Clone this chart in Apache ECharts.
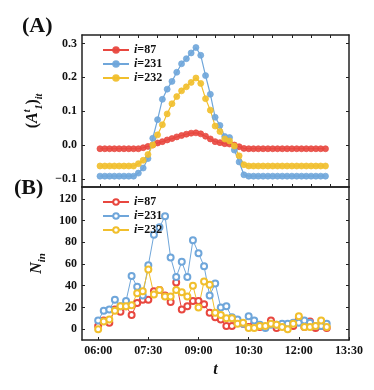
<!DOCTYPE html>
<html>
<head>
<meta charset="utf-8">
<script src="https://cdn.jsdelivr.net/npm/echarts@6/dist/echarts.min.js"></script>
<style>
html, body { margin: 0; padding: 0; background: #fff; }
#chart { width: 374px; height: 390px; }
</style>
</head>
<body>
<div id="chart"></div>
<script>
// panel A: time step index
var stepsA = [0,1,2,3,4,5,6,7,8,9,10,11,12,13,14,15,16,17,18,19,20,21,22,23,
              24,25,26,27,28,29,30,31,32,33,34,35,36,37,38,39,40,41,42,43,44,45,46,47];
var redA = [-0.011,-0.011,-0.011,-0.011,-0.011,-0.011,-0.011,-0.011,-0.011,-0.008,-0.004,0.0,
            0.006,0.010,0.015,0.019,0.024,0.028,0.032,0.035,0.036,0.033,0.026,0.018,
            0.010,0.007,0.004,0.003,0.0,-0.005,-0.010,-0.011,-0.011,-0.011,-0.011,-0.011,
            -0.011,-0.011,-0.011,-0.011,-0.011,-0.011,-0.011,-0.011,-0.011,-0.011,-0.011,-0.011];
var blueA = [-0.092,-0.092,-0.092,-0.092,-0.092,-0.092,-0.092,-0.092,-0.083,-0.068,-0.040,0.020,
             0.075,0.135,0.165,0.188,0.215,0.240,0.255,0.272,0.288,0.265,0.205,0.150,
             0.082,0.058,0.025,0.022,-0.015,-0.050,-0.088,-0.092,-0.092,-0.092,-0.092,-0.092,
             -0.092,-0.092,-0.092,-0.092,-0.092,-0.092,-0.092,-0.092,-0.092,-0.092,-0.092,-0.092];
var yellowA = [-0.062,-0.062,-0.062,-0.062,-0.062,-0.062,-0.062,-0.062,-0.055,-0.045,-0.028,0.0,
               0.030,0.060,0.092,0.122,0.143,0.160,0.172,0.185,0.198,0.182,0.137,0.103,
               0.056,0.040,0.018,0.012,-0.003,-0.032,-0.058,-0.062,-0.062,-0.062,-0.062,-0.062,
               -0.062,-0.062,-0.062,-0.062,-0.062,-0.062,-0.062,-0.062,-0.062,-0.062,-0.062,-0.062];

// panel B: 10-minute slots
var timesB = ['06:00','06:10','06:20','06:30','06:40','06:50','07:00','07:10','07:20','07:30',
              '07:40','07:50','08:00','08:10','08:20','08:30','08:40','08:50','09:00','09:10',
              '09:20','09:30','09:40','09:50','10:00','10:10','10:20','10:30','10:40','10:50',
              '11:00','11:10','11:20','11:30','11:40','11:50','12:00','12:10','12:20','12:30',
              '12:40','12:50'];
var redB = [3,8,6,18,16,21,13,24,27,27,35,36,31,25,43,18,21,26,26,23,15,11,9,3,3,6,5,2,5,2,2,8,1,4,2,3,10,2,7,1,3,1];
var blueB = [8,17,18,27,21,26,49,39,31,59,87,94,104,66,48,62,48,82,70,58,31,42,20,21,11,9,5,12,8,4,1,4,4,5,5,6,6,8,6,3,3,5];
var yellowB = [0,7,9,17,21,21,22,33,35,55,32,36,30,30,36,34,30,40,20,44,41,15,13,10,10,5,6,1,1,3,3,5,4,2,0,5,12,2,2,3,8,2];

var seriesIds = ['87', '231', '232'];
var colors = ['#e8473f', '#6fa6da', '#f1bf2c'];
var tickLabelsA = [-0.1, 0.0, 0.1, 0.2, 0.3];
var tickLabelsB = [0, 20, 40, 60, 80, 100, 120];
var timeLabels = ['06:00', '07:30', '09:00', '10:30', '12:00', '13:30'];

function toMin(s) {
    var p = s.split(':');
    return parseInt(p[0], 10) * 60 + parseInt(p[1], 10);
}
function fmtTime(v) {
    var h = Math.floor(v / 60), m = v % 60;
    return (h < 10 ? '0' : '') + h + ':' + (m < 10 ? '0' : '') + m;
}
function pairs(xs, ys) {
    return ys.map(function (y, i) { return [xs[i], y]; });
}

var FONT = 'Liberation Serif';
var frame = { onZero: false, lineStyle: { color: '#222', width: 1.5 } };
var minB = timesB.map(toMin);
var timeTicks = timeLabels.map(toMin);
var stepTicks = [0, 4, 8, 12, 16, 20, 24, 28, 32, 36, 40, 44, 48];

var richLegend = {
    it: { fontStyle: 'italic', fontWeight: 'bold', fontFamily: FONT, fontSize: 12, color: '#111' },
    n: { fontWeight: 'bold', fontFamily: FONT, fontSize: 12, color: '#111' }
};
function legendFmt(name) {
    return '{it|i}{n|=' + name.split(':')[1] + '}';
}

var seriesA = [redA, blueA, yellowA].map(function (ys, k) {
    return {
        name: 'A:' + seriesIds[k],
        type: 'line',
        xAxisIndex: 0, yAxisIndex: 0,
        data: pairs(stepsA, ys),
        symbol: 'circle',
        symbolSize: 6,
        lineStyle: { color: colors[k], width: 1.2 },
        itemStyle: { color: colors[k], borderColor: colors[k], borderWidth: 0.8, opacity: 0.9 },
        z: 3 + (k === 0 ? 0 : 1)
    };
});
var seriesB = [redB, blueB, yellowB].map(function (ys, k) {
    return {
        name: 'B:' + seriesIds[k],
        type: 'line',
        xAxisIndex: 2, yAxisIndex: 2,
        data: pairs(minB, ys),
        symbol: 'emptyCircle',
        symbolSize: 6,
        lineStyle: { color: colors[k], width: 1 },
        itemStyle: { color: colors[k], borderWidth: 1.3 }
    };
});

var option = {
    animation: false,
    backgroundColor: '#fff',
    textStyle: { fontFamily: FONT },
    grid: [
        { left: 82, top: 35, width: 267, height: 152 },
        { left: 82, top: 187, width: 267, height: 153 }
    ],
    legend: [
        {
            data: seriesA.map(function (s) { return s.name; }),
            orient: 'vertical', left: 97, top: 38,
            itemWidth: 26, itemHeight: 7, itemGap: 0,
            formatter: legendFmt,
            textStyle: { rich: richLegend, lineHeight: 14 }
        },
        {
            data: seriesB.map(function (s) { return s.name; }),
            orient: 'vertical', left: 97, top: 190,
            itemWidth: 26, itemHeight: 7, itemGap: 0,
            formatter: legendFmt,
            textStyle: { rich: richLegend, lineHeight: 14 }
        }
    ],
    xAxis: [
        {
            gridIndex: 0, type: 'value', min: -3.75, max: 51.9, position: 'bottom',
            axisLine: frame, splitLine: { show: false },
            axisTick: { inside: true, length: 3, customValues: stepTicks, lineStyle: { color: '#222' } },
            axisLabel: { show: false }
        },
        {
            gridIndex: 0, type: 'value', min: -3.75, max: 51.9, position: 'top',
            axisLine: frame, splitLine: { show: false },
            axisTick: { inside: true, length: 3, customValues: stepTicks, lineStyle: { color: '#222' } },
            axisLabel: { show: false }
        },
        {
            gridIndex: 1, type: 'value', min: 331, max: 810, position: 'bottom',
            axisLine: frame, splitLine: { show: false },
            axisTick: { inside: true, length: 3, customValues: timeTicks, lineStyle: { color: '#222' } },
            axisLabel: {
                customValues: timeTicks, formatter: fmtTime, margin: 5,
                fontFamily: FONT, fontWeight: 'bold', fontSize: 12, color: '#111'
            },
            name: 't', nameLocation: 'middle', nameGap: 22,
            nameTextStyle: { fontFamily: FONT, fontStyle: 'italic', fontWeight: 'bold', fontSize: 16, color: '#111' }
        },
        {
            gridIndex: 1, type: 'value', min: 331, max: 810, position: 'top',
            axisLine: frame, splitLine: { show: false },
            axisTick: { show: false }, axisLabel: { show: false }
        }
    ],
    yAxis: [
        {
            gridIndex: 0, type: 'value', min: -0.124, max: 0.325, position: 'left',
            axisLine: frame, splitLine: { show: false },
            axisTick: { inside: true, length: 3, customValues: tickLabelsA, lineStyle: { color: '#222' } },
            axisLabel: {
                customValues: tickLabelsA, margin: 5,
                formatter: function (v) { return (v < -1e-9 ? '\u2212' : '') + Math.abs(v).toFixed(1); },
                fontFamily: FONT, fontWeight: 'bold', fontSize: 12, color: '#111'
            },
            name: '{p|(}{a|A}{sup|t}{sub|1}{p|)}{sub|it}',
            nameLocation: 'middle', nameGap: 29, nameRotate: 90,
            nameTextStyle: {
                rich: {
                    p: { fontFamily: FONT, fontWeight: 'bold', fontSize: 16, color: '#111', lineHeight: 22, verticalAlign: 'middle' },
                    a: { fontFamily: FONT, fontWeight: 'bold', fontStyle: 'italic', fontSize: 16, color: '#111', lineHeight: 22, verticalAlign: 'middle' },
                    sup: { fontFamily: FONT, fontWeight: 'bold', fontStyle: 'italic', fontSize: 10, color: '#111', lineHeight: 22, verticalAlign: 'top' },
                    sub: { fontFamily: FONT, fontWeight: 'bold', fontStyle: 'italic', fontSize: 10, color: '#111', lineHeight: 22, verticalAlign: 'bottom' }
                }
            }
        },
        {
            gridIndex: 0, type: 'value', min: -0.124, max: 0.325, position: 'right',
            axisLine: frame, splitLine: { show: false },
            axisTick: { inside: true, length: 3, customValues: tickLabelsA, lineStyle: { color: '#222' } },
            axisLabel: { show: false }
        },
        {
            gridIndex: 1, type: 'value', min: -10, max: 131, position: 'left',
            axisLine: frame, splitLine: { show: false },
            axisTick: { inside: true, length: 3, customValues: tickLabelsB, lineStyle: { color: '#222' } },
            axisLabel: {
                customValues: tickLabelsB, margin: 5,
                fontFamily: FONT, fontWeight: 'bold', fontSize: 12, color: '#111'
            },
            name: '{n|N}{sub|in}',
            nameLocation: 'middle', nameGap: 27, nameRotate: 90,
            nameTextStyle: {
                rich: {
                    n: { fontFamily: FONT, fontWeight: 'bold', fontStyle: 'italic', fontSize: 16, color: '#111', lineHeight: 22, verticalAlign: 'middle' },
                    sub: { fontFamily: FONT, fontWeight: 'bold', fontStyle: 'italic', fontSize: 11, color: '#111', lineHeight: 22, verticalAlign: 'bottom' }
                }
            }
        },
        {
            gridIndex: 1, type: 'value', min: -10, max: 131, position: 'right',
            axisLine: frame, splitLine: { show: false },
            axisTick: { inside: true, length: 3, customValues: tickLabelsB, lineStyle: { color: '#222' } },
            axisLabel: { show: false }
        }
    ],
    graphic: [
        { type: 'text', left: 22, top: 15, style: { text: '(A)', font: 'bold 22px "Liberation Serif"', fill: '#111' } },
        { type: 'text', left: 14, top: 177, style: { text: '(B)', font: 'bold 22px "Liberation Serif"', fill: '#111' } }
    ],
    series: seriesA.concat(seriesB)
};

var chart = echarts.init(document.getElementById('chart'));
chart.setOption(option);
</script>
</body>
</html>
